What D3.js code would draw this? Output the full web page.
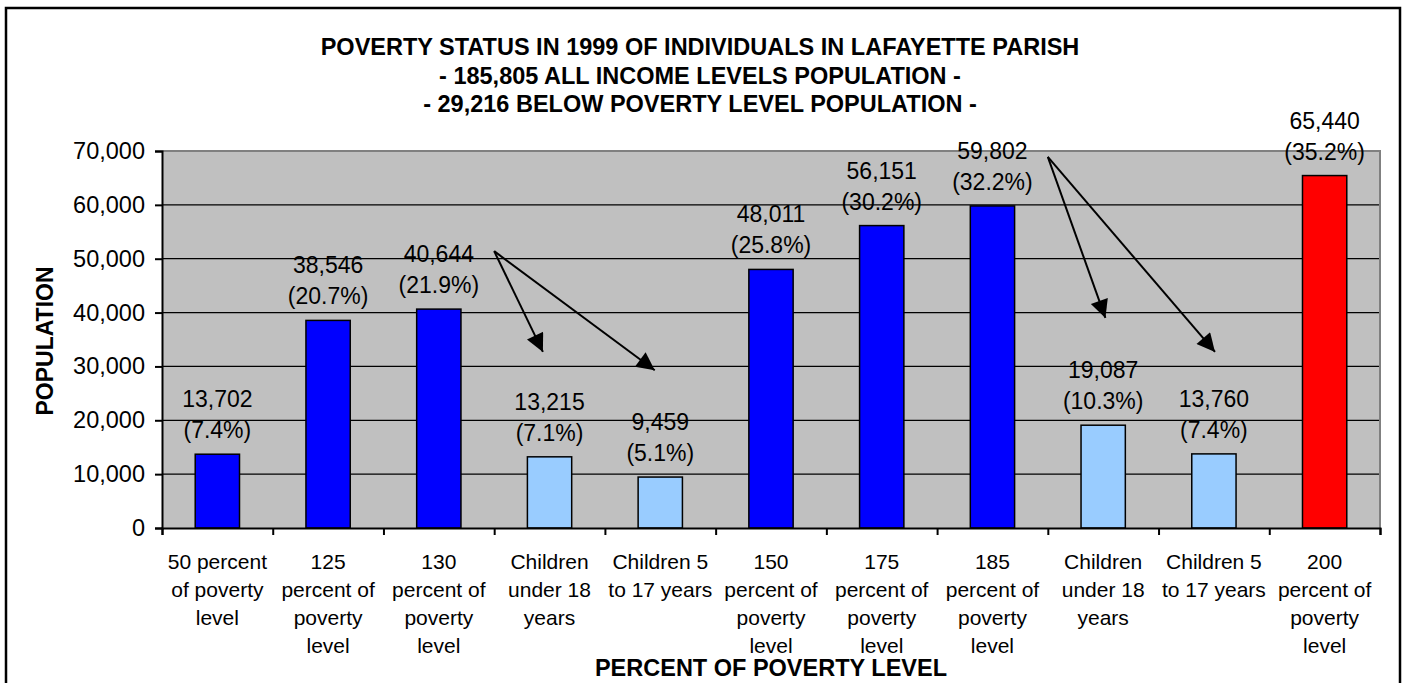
<!DOCTYPE html>
<html>
<head>
<meta charset="utf-8">
<script src="https://cdn.jsdelivr.net/npm/d3@7"></script>
<style>
  html, body { margin: 0; padding: 0; background: #fff; }
  svg { display: block; font-family: Arial, "Liberation Sans", sans-serif; }
</style>
</head>
<body>
<svg id="chart" width="1408" height="683"></svg>
<script>
// ---- data ----
const categories = [
  "50 percent of poverty level",
  "125 percent of poverty level",
  "130 percent of poverty level",
  "Children under 18 years",
  "Children 5 to 17 years",
  "150 percent of poverty level",
  "175 percent of poverty level",
  "185 percent of poverty level",
  "Children under 18 years ",
  "Children 5 to 17 years ",
  "200 percent of poverty level"
];
const categoryLines = [
  ["50 percent", "of poverty", "level"],
  ["125", "percent of", "poverty", "level"],
  ["130", "percent of", "poverty", "level"],
  ["Children", "under 18", "years"],
  ["Children 5", "to 17 years"],
  ["150", "percent of", "poverty", "level"],
  ["175", "percent of", "poverty", "level"],
  ["185", "percent of", "poverty", "level"],
  ["Children", "under 18", "years"],
  ["Children 5", "to 17 years"],
  ["200", "percent of", "poverty", "level"]
];
const population = [13702, 38546, 40644, 13215, 9459, 48011, 56151, 59802, 19087, 13760, 65440];
const percentLabels = ["(7.4%)", "(20.7%)", "(21.9%)", "(7.1%)", "(5.1%)", "(25.8%)", "(30.2%)", "(32.2%)", "(10.3%)", "(7.4%)", "(35.2%)"];
const barGroup = ["level", "level", "level", "child", "child", "level", "level", "level", "child", "child", "top"];
const yTicks = [0, 10000, 20000, 30000, 40000, 50000, 60000, 70000];
const titleLines = [
  "POVERTY STATUS IN 1999 OF INDIVIDUALS IN LAFAYETTE PARISH",
  "- 185,805 ALL INCOME LEVELS POPULATION -",
  "- 29,216 BELOW POVERTY LEVEL POPULATION -"
];
const xTitle = "PERCENT OF POVERTY LEVEL";
const yTitle = "POPULATION";
// arrows: [startBandPos, startValue, endBandPos, endValue] (band units, population)
const arrows = [
  [3.0, 51400, 3.44, 32700],
  [3.0, 51400, 4.45, 29300],
  [8.0, 68900, 8.52, 39000],
  [8.0, 68900, 9.51, 32700]
];

// ---- layout ----
const svg = d3.select("#chart");
const plot = { left: 162, right: 1380, top: 151, bottom: 528 };
const colors = { level: "#0000FF", child: "#99CCFF", top: "#FF0000" };

const x = d3.scaleBand().domain(categories).range([plot.left, plot.right]).paddingInner(0).paddingOuter(0);
const y = d3.scaleLinear().domain([0, 70000]).range([plot.bottom, plot.top]);
const xPos = d3.scaleLinear().domain([0, categories.length]).range([plot.left, plot.right]);

// frame
svg.append("rect").attr("x", 6).attr("y", 8).attr("width", 1394).attr("height", 700)
  .attr("fill", "#fff").attr("stroke", "#000").attr("stroke-width", 2.5);

// plot background
svg.append("rect").attr("x", plot.left).attr("y", plot.top)
  .attr("width", plot.right - plot.left).attr("height", plot.bottom - plot.top)
  .attr("fill", "#C0C0C0");

// gridlines
svg.append("g").selectAll("line").data(yTicks.filter(d => d > 0 && d < 70000)).join("line")
  .attr("x1", plot.left).attr("x2", plot.right)
  .attr("y1", d => y(d)).attr("y2", d => y(d))
  .attr("stroke", "#000").attr("stroke-width", 1.3);

// plot border top/right gray
svg.append("path")
  .attr("d", `M${plot.left},${plot.top}H${plot.right}V${plot.bottom}`)
  .attr("fill", "none").attr("stroke", "#808080").attr("stroke-width", 2);

// bars
const bw = x.bandwidth() * 0.4;
svg.append("g").selectAll("rect").data(population).join("rect")
  .attr("x", (d, i) => x(categories[i]) + x.bandwidth() / 2 - bw / 2)
  .attr("y", d => y(d))
  .attr("width", bw)
  .attr("height", d => y(0) - y(d))
  .attr("fill", (d, i) => colors[barGroup[i]])
  .attr("stroke", "#000").attr("stroke-width", 1.5);

// y axis
const yAxis = svg.append("g").attr("transform", `translate(${plot.left},0)`)
  .call(d3.axisLeft(y).tickValues(yTicks).tickFormat(d3.format(",")).tickSize(7).tickPadding(10));
yAxis.select(".domain").attr("stroke", "#000").attr("stroke-width", 2);
yAxis.selectAll(".tick line").attr("stroke", "#000").attr("stroke-width", 2);
yAxis.selectAll(".tick text").attr("font-size", 23.5).attr("fill", "#000")
  .attr("font-family", "Arial, 'Liberation Sans', sans-serif");

// x axis
const xAxis = svg.append("g").attr("transform", `translate(0,${plot.bottom})`)
  .call(d3.axisBottom(xPos).tickValues(d3.range(0, categories.length + 1)).tickFormat("").tickSize(7));
xAxis.select(".domain").attr("stroke", "#000").attr("stroke-width", 2);
xAxis.selectAll(".tick line").attr("stroke", "#000").attr("stroke-width", 2);

// category labels
const catG = svg.append("g").attr("font-size", 21).attr("text-anchor", "middle").attr("fill", "#000");
categoryLines.forEach((lines, i) => {
  const t = catG.append("text").attr("x", x(categories[i]) + x.bandwidth() / 2).attr("y", 569);
  lines.forEach((ln, j) => {
    t.append("tspan").attr("x", x(categories[i]) + x.bandwidth() / 2).attr("dy", j === 0 ? 0 : 28).text(ln);
  });
});

// data labels
const lblG = svg.append("g").attr("font-size", 23).attr("text-anchor", "middle").attr("fill", "#000");
population.forEach((v, i) => {
  const cx = x(categories[i]) + x.bandwidth() / 2;
  lblG.append("text").attr("x", cx).attr("y", y(v) - 47).text(d3.format(",")(v));
  lblG.append("text").attr("x", cx).attr("y", y(v) - 16).text(percentLabels[i]);
});

// arrows
const defs = svg.append("defs");
defs.append("marker").attr("id", "ah").attr("viewBox", "0 0 10 10")
  .attr("refX", 10).attr("refY", 5).attr("markerWidth", 22).attr("markerHeight", 18)
  .attr("markerUnits", "userSpaceOnUse").attr("orient", "auto")
  .append("path").attr("d", "M0,0L10,5L0,10Z").attr("fill", "#000");
svg.append("g").selectAll("line").data(arrows).join("line")
  .attr("x1", d => xPos(d[0])).attr("y1", d => y(d[1]))
  .attr("x2", d => xPos(d[2])).attr("y2", d => y(d[3]))
  .attr("stroke", "#000").attr("stroke-width", 2).attr("marker-end", "url(#ah)");

// titles
const tG = svg.append("g").attr("font-weight", "bold").attr("font-size", 23.5).attr("text-anchor", "middle").attr("fill", "#000");
titleLines.forEach((ln, i) => {
  tG.append("text").attr("x", 700).attr("y", 55 + i * 28.5).text(ln);
});
svg.append("text").attr("x", 771).attr("y", 676).attr("text-anchor", "middle")
  .attr("font-weight", "bold").attr("font-size", 23.5).text(xTitle);
svg.append("text").attr("transform", "translate(53,341) rotate(-90)").attr("text-anchor", "middle")
  .attr("font-weight", "bold").attr("font-size", 23).text(yTitle);
</script>
</body>
</html>
